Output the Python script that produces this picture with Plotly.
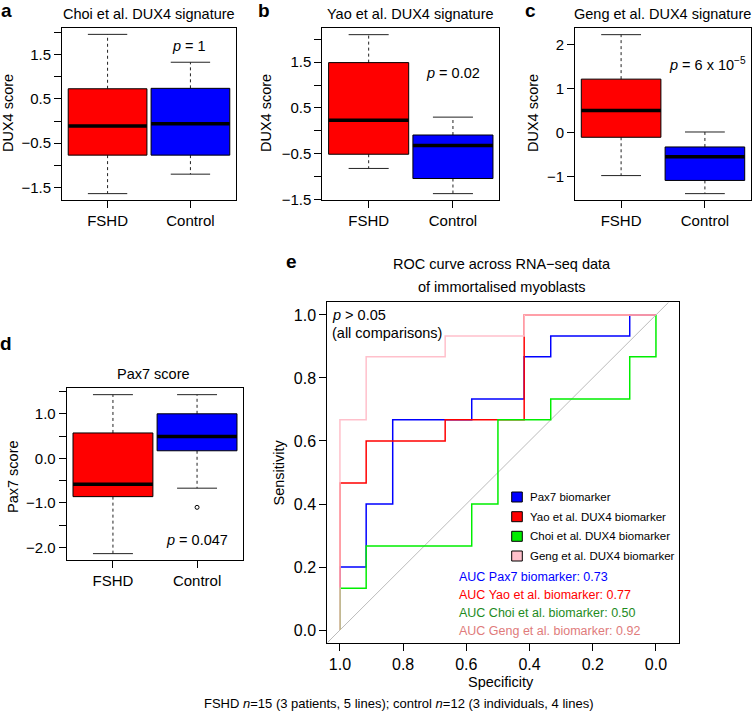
import plotly.graph_objects as go

W, H = 753, 716
FONT = "Liberation Sans, Arial, Helvetica, sans-serif"

# ---------------- data ----------------
categories = ["FSHD", "Control"]
# box statistics: [lower whisker, Q1, median, Q3, upper whisker]
choi_fshd = [-1.64, -0.77, -0.11, 0.73, 1.96]
choi_ctrl = [-1.20, -0.77, -0.06, 0.74, 1.33]
yao_fshd = [-0.82, -0.51, 0.23, 1.49, 2.10]
yao_ctrl = [-1.37, -1.04, -0.32, -0.09, 0.30]
geng_fshd = [-0.97, -0.10, 0.51, 1.22, 2.23]
geng_ctrl = [-1.38, -1.08, -0.54, -0.32, 0.02]
pax7_fshd = [-2.14, -0.86, -0.58, 0.57, 1.43]
pax7_ctrl = [-0.67, 0.17, 0.49, 1.00, 1.43]
pax7_ctrl_outliers = [-1.10]

p_texts = ["<i>p</i> = 1", "<i>p</i> = 0.02", "<i>p</i> = 6 x 10<sup>−5</sup>", "<i>p</i> = 0.047"]

# ROC curves (specificity, sensitivity)
pax7_spec = [1.0, 1.0, 0.917, 0.917, 0.833, 0.833, 0.583, 0.583, 0.417, 0.417, 0.333, 0.333, 0.083, 0.083, 0.0]
pax7_sens = [0.0, 0.2, 0.2, 0.4, 0.4, 0.667, 0.667, 0.733, 0.733, 0.867, 0.867, 0.933, 0.933, 1.0, 1.0]
yao_spec = [1.0, 1.0, 0.917, 0.917, 0.667, 0.667, 0.417, 0.417, 0.0]
yao_sens = [0.0, 0.467, 0.467, 0.6, 0.6, 0.667, 0.667, 1.0, 1.0]
choi_spec = [1.0, 1.0, 0.917, 0.917, 0.583, 0.583, 0.5, 0.5, 0.333, 0.333, 0.083, 0.083, 0.0, 0.0]
choi_sens = [0.0, 0.133, 0.133, 0.267, 0.267, 0.4, 0.4, 0.667, 0.667, 0.733, 0.733, 0.867, 0.867, 1.0]
geng_spec = [1.0, 1.0, 0.917, 0.917, 0.667, 0.667, 0.417, 0.417, 0.0]
geng_sens = [0.0, 0.667, 0.667, 0.867, 0.867, 0.933, 0.933, 1.0, 1.0]

roc_names = ["Pax7 biomarker", "Yao et al. DUX4 biomarker", "Choi et al. DUX4 biomarker", "Geng et al. DUX4 biomarker"]
auc_labels = ["AUC Pax7 biomarker: 0.73", "AUC Yao et al. biomarker: 0.77",
              "AUC Choi et al. biomarker: 0.50", "AUC Geng et al. biomarker: 0.92"]
roc_ticks = [1.0, 0.8, 0.6, 0.4, 0.2, 0.0]

# ---------------- styles ----------------
FSHD_COL = "#FF0000"
CTRL_COL = "#0000FF"
roc_colors = ["#0000FF", "#FF0000", "#00EE00", "#FFC0CB"]
auc_colors = ["#0000FF", "#FF0000", "#1E8B1E", "#E07B7B"]
BOX_W = 0.95


def pxx(p):
    return p / W


def pxy(p):
    return 1 - p / H


def rrange(stats_list):
    lo = min(min(s) for s in stats_list)
    hi = max(max(s) for s in stats_list)
    pad = 0.04 * (hi - lo)
    return [lo - pad, hi + pad]


fig = go.Figure()


def add_box(xa, ya, pos, stats, color):
    lo, q1, med, q3, hi = stats
    hw, cw = BOX_W / 2, BOX_W / 4
    common = dict(xaxis=xa, yaxis=ya, showlegend=False, hoverinfo="skip", mode="lines")
    fig.add_trace(go.Scatter(x=[pos, pos, None, pos, pos], y=[q3, hi, None, q1, lo],
                             line=dict(color="#222222", width=1, dash="3px,3px"), **common))
    fig.add_trace(go.Scatter(x=[pos - cw, pos + cw, None, pos - cw, pos + cw], y=[hi, hi, None, lo, lo],
                             line=dict(color="#222222", width=1), **common))
    fig.add_trace(go.Scatter(x=[pos - hw, pos + hw, pos + hw, pos - hw, pos - hw], y=[q1, q1, q3, q3, q1],
                             fill="toself", fillcolor=color, line=dict(color="black", width=1), **common))
    fig.add_trace(go.Scatter(x=[pos - hw, pos + hw], y=[med, med],
                             line=dict(color="black", width=3.5), **common))


def lab(v, nd):
    s = f"{abs(v):.{nd}f}"
    return ("−" + s) if v < 0 else s


panels = [
    dict(n="", frame=(62, 236, 28, 200), data=(choi_fshd, choi_ctrl),
         ticks=[-1.5, -1.0, -0.5, 0, 0.5, 1.0, 1.5, 2.0], labelled=[-1.5, -0.5, 0.5, 1.5], nd=1),
    dict(n="2", frame=(322.3, 499.3, 28.3, 200), data=(yao_fshd, yao_ctrl),
         ticks=[-1.5, -1.0, -0.5, 0, 0.5, 1.0, 1.5, 2.0], labelled=[-1.5, -0.5, 0.5, 1.5], nd=1),
    dict(n="3", frame=(575, 751, 28.3, 200), data=(geng_fshd, geng_ctrl),
         ticks=[-1, 0, 1, 2], labelled=[-1, 0, 1, 2], nd=0),
    dict(n="4", frame=(66.7, 243.3, 388.3, 560), data=(pax7_fshd, pax7_ctrl),
         ticks=[-2.0, -1.5, -1.0, -0.5, 0, 0.5, 1.0, 1.5], labelled=[-2.0, -1.0, 0.0, 1.0], nd=1),
]

axis_common = dict(showline=True, linecolor="black", linewidth=1, mirror=True, showgrid=False,
                   zeroline=False, ticks="outside", ticklen=7, tickwidth=1, tickcolor="black",
                   automargin=False,
                   tickfont=dict(family=FONT, size=15, color="black"), fixedrange=True)

layout_axes = {}
for p in panels:
    xa, ya = "x" + p["n"], "y" + p["n"]
    x0, x1, y0, y1 = p["frame"]
    f, c = p["data"]
    add_box(xa, ya, 1, f, FSHD_COL)
    add_box(xa, ya, 2, c, CTRL_COL)
    yr = rrange([f, c] + ([pax7_ctrl_outliers] if p["n"] == "4" else []))
    ytext = [lab(v, p["nd"]) if any(abs(v - l) < 1e-9 for l in p["labelled"]) else "" for v in p["ticks"]]
    layout_axes["xaxis" + p["n"]] = dict(domain=[pxx(x0), pxx(x1)], range=[0.45, 2.55], anchor=ya,
                                          tickvals=[1, 2], ticktext=categories, **axis_common)
    layout_axes["yaxis" + p["n"]] = dict(domain=[pxy(y1), pxy(y0)], range=yr, anchor=xa,
                                          tickvals=p["ticks"], ticktext=ytext, **axis_common)

# outlier in Pax7 control
fig.add_trace(go.Scatter(x=[2] * len(pax7_ctrl_outliers), y=pax7_ctrl_outliers, mode="markers",
                         marker=dict(symbol="circle-open", size=4, color="black", line=dict(width=1)),
                         xaxis="x4", yaxis="y4", showlegend=False, hoverinfo="skip"))

# ---------------- ROC panel ----------------
ex_range = [1.04, -0.072]
ey_range = [-0.04, 1.04]
fig.add_trace(go.Scatter(x=[ex_range[0], 1 - ey_range[1]], y=[1 - ex_range[0], ey_range[1]], mode="lines",
                         line=dict(color="#AAAAAA", width=0.8), xaxis="x5", yaxis="y5",
                         showlegend=False, hoverinfo="skip"))
for sx, sy, col, name in zip([pax7_spec, yao_spec, choi_spec, geng_spec],
                             [pax7_sens, yao_sens, choi_sens, geng_sens], roc_colors, roc_names):
    fig.add_trace(go.Scatter(x=sx, y=sy, mode="lines", line=dict(color=col, width=1.5), name=name,
                             xaxis="x5", yaxis="y5", showlegend=False, hoverinfo="skip"))

e_common = dict(axis_common)
e_common["tickfont"] = dict(family=FONT, size=16, color="black")
layout_axes["xaxis5"] = dict(domain=[pxx(327.3), pxx(678.7)], range=ex_range, anchor="y5",
                             tickvals=roc_ticks, ticktext=[f"{v:.1f}" for v in roc_ticks], **e_common)
layout_axes["yaxis5"] = dict(domain=[pxy(642.7), pxy(302.3)], range=ey_range, anchor="x5",
                             tickvals=roc_ticks, ticktext=[f"{v:.1f}" for v in roc_ticks], **e_common)

# ---------------- annotations ----------------
ann = []
shapes = []


def text(t, x, y, size, xanchor="center", color="black", bold=False, angle=0):
    ann.append(dict(text=(f"<b>{t}</b>" if bold else t), x=pxx(x), y=pxy(y), xref="paper", yref="paper",
                    xanchor=xanchor, yanchor="middle", showarrow=False, textangle=angle,
                    font=dict(family=FONT, size=size, color=color)))


# panel letters
for t, x, y in [("a", 6, 10), ("b", 264, 10), ("c", 530, 10), ("d", 6, 343), ("e", 291, 261)]:
    text(t, x, y, 19, bold=True)
# titles
text("Choi et al. DUX4 signature", 149, 14, 14.5)
text("Yao et al. DUX4 signature", 411, 14, 14.5)
text("Geng et al. DUX4 signature", 662, 14, 14.5)
text("Pax7 score", 153, 373.5, 14.5)
text("ROC curve across RNA−seq data", 502, 264, 14.5)
text("of immortalised myoblasts", 502, 287, 14.5)
# y titles
text("DUX4 score", 8, 113, 14.5, angle=-90)
text("DUX4 score", 266, 113, 14.5, angle=-90)
text("DUX4 score", 533, 113, 14.5, angle=-90)
text("Pax7 score", 13, 477, 14.5, angle=-90)
text("Sensitivity", 278.5, 473, 14.5, angle=-90)
text("Specificity", 501, 682, 14.5)
# p values
text(p_texts[0], 189, 45.5, 14.5)
text(p_texts[1], 452.5, 73, 14.5)
text(p_texts[2], 707, 64, 14.5)
text(p_texts[3], 196.7, 540, 14.5)
text("<i>p</i> > 0.05", 330, 315, 14.5, xanchor="left")
text("(all comparisons)", 330, 333, 14.5, xanchor="left")
# ROC key (legend)
for name, col, y in zip(roc_names, roc_colors, [497, 516.7, 536.3, 556]):
    shapes.append(dict(type="rect", xref="paper", yref="paper", x0=pxx(511.7), x1=pxx(522.3),
                       y0=pxy(y + 5), y1=pxy(y - 5), fillcolor=col, line=dict(color="black", width=1)))
    text(name, 528.3, y, 11.5, xanchor="left")
# AUC texts
for lbl, col, y in zip(auc_labels, auc_colors, [576.5, 594.5, 612.5, 630.5]):
    text(lbl, 457.3, y, 12.5, xanchor="left", color=col)
# caption
text("FSHD <i>n</i>=15 (3 patients, 5 lines); control <i>n</i>=12 (3 individuals, 4 lines)", 399, 703, 13)

fig.update_layout(
    template="none",
    width=W, height=H, margin=dict(l=0, r=0, t=0, b=0, pad=0, autoexpand=False),
    paper_bgcolor="white", plot_bgcolor="white",
    font=dict(family=FONT, color="black"),
    annotations=ann, shapes=shapes, showlegend=False,
    **layout_axes,
)

fig.write_html("out.html", config={"displayModeBar": False},
               post_script="document.body.style.margin='0';document.body.style.overflow='hidden';")
